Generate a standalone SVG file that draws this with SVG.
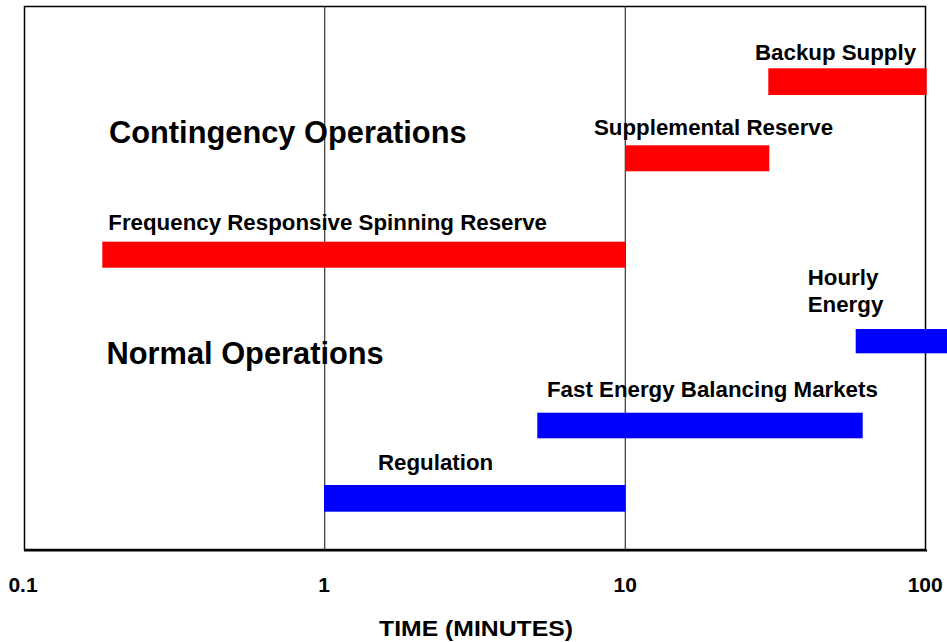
<svg xmlns="http://www.w3.org/2000/svg" width="947" height="642" viewBox="0 0 947 642">
<style>
text{font-family:"Liberation Sans",Arial,sans-serif;font-weight:bold;fill:#000}
.lbl{font-size:22.3px}
.big{font-size:30.8px}
.tick{font-size:21px;text-anchor:middle}
.red{fill:#ff0000}
.blue{fill:#0000ff}
.grid{stroke:#333;stroke-width:1.2;fill:none}
</style>
<rect x="0" y="0" width="947" height="642" fill="#fff"/>
<g id="frame">
<rect x="24.5" y="6.5" width="901" height="543" fill="none" stroke="#000" stroke-width="1.5"/>
<line class="grid" x1="324.7" y1="6" x2="324.7" y2="550"/>
<line class="grid" x1="625.3" y1="6" x2="625.3" y2="550"/>
<line x1="24" y1="550.3" x2="927" y2="550.3" stroke="#000" stroke-width="2.2"/>
</g>
<g id="headings">
<text class="big" x="109" y="142.7">Contingency Operations</text>
<text class="big" x="106.5" y="364.3">Normal Operations</text>
</g>
<g id="backup-supply">
<rect class="red" x="768.3" y="68.3" width="158.4" height="26.7"/>
<text class="lbl" x="755" y="60">Backup Supply</text>
</g>
<g id="supplemental-reserve">
<rect class="red" x="625" y="145.3" width="144.3" height="26"/>
<text class="lbl" x="594" y="135">Supplemental Reserve</text>
</g>
<g id="frequency-responsive">
<rect class="red" x="102.3" y="241.7" width="522.9" height="26"/>
<text class="lbl" x="108.3" y="230">Frequency Responsive Spinning Reserve</text>
</g>
<g id="hourly-energy">
<rect class="blue" x="855.7" y="329" width="91.3" height="24.3"/>
<text class="lbl" x="807.7" y="285">Hourly</text>
<text class="lbl" x="807.7" y="312">Energy</text>
</g>
<g id="fast-energy">
<rect class="blue" x="537.3" y="412.7" width="325.4" height="25.6"/>
<text class="lbl" x="547" y="397.3">Fast Energy Balancing Markets</text>
</g>
<g id="regulation">
<rect class="blue" x="324" y="485" width="301.3" height="26.7"/>
<text class="lbl" x="378" y="470">Regulation</text>
</g>
<g id="axis-labels">
<text class="tick" x="23" y="592">0.1</text>
<text class="tick" x="324" y="592">1</text>
<text class="tick" x="625.3" y="592">10</text>
<text class="tick" x="925.2" y="592">100</text>
<text class="lbl" x="379" y="635.5" textLength="194" lengthAdjust="spacingAndGlyphs">TIME (MINUTES)</text>
</g>
</svg>
